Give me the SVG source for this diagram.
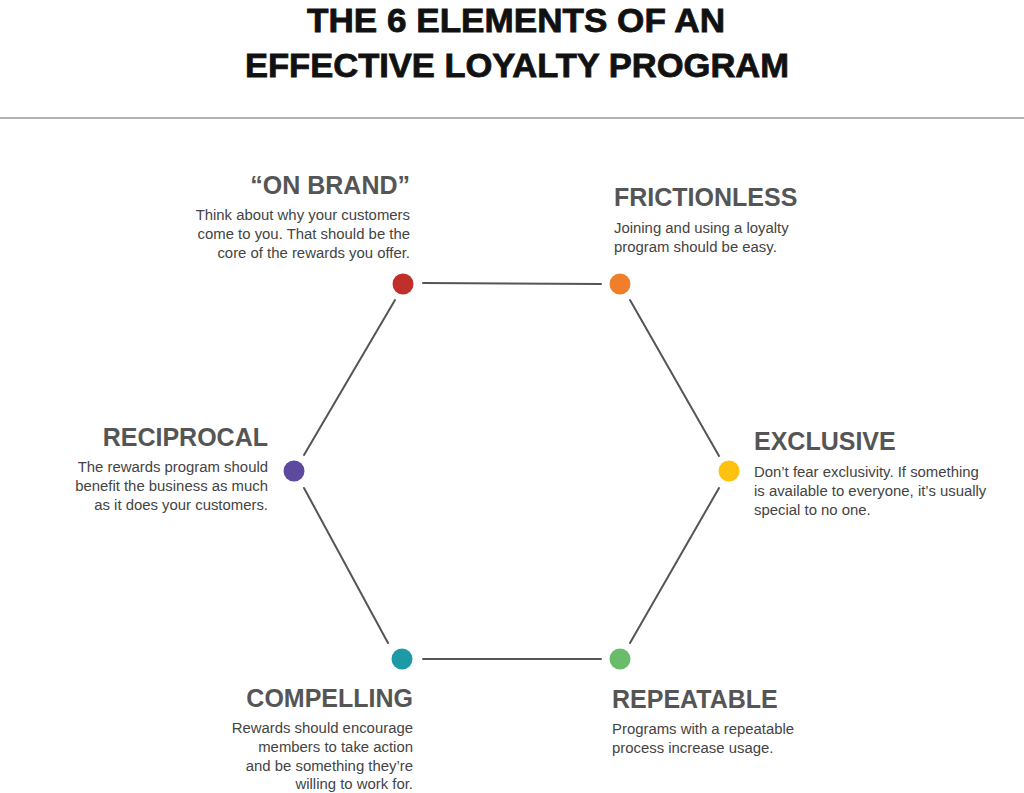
<svg xmlns="http://www.w3.org/2000/svg" width="1024" height="793" viewBox="0 0 1024 793">
<style>
.title{font-family:"Liberation Sans",Arial,sans-serif;font-weight:bold;font-size:34px;fill:#111;stroke:#111;stroke-width:0.8px;text-anchor:middle}
.h{font-family:"Liberation Sans",Arial,sans-serif;font-weight:bold;font-size:25px;fill:#555}
.b{font-family:"Liberation Sans",Arial,sans-serif;font-size:14.9px;fill:#444}
.r{text-anchor:end}
.conn line{stroke:#555;stroke-width:2;stroke-linecap:round}
</style>
<rect width="1024" height="793" fill="#fff"/>
<g id="title">
<text class="title" x="516" y="32" textLength="418" lengthAdjust="spacingAndGlyphs">THE 6 ELEMENTS OF AN</text>
<text class="title" x="517" y="77" textLength="544" lengthAdjust="spacingAndGlyphs">EFFECTIVE LOYALTY PROGRAM</text>
<line x1="0" y1="118" x2="1024" y2="118" stroke="#b3b3b3" stroke-width="2"/>
</g>
<g class="conn" id="connectors">
<line x1="423" y1="283" x2="601" y2="284"/>
<line x1="630" y1="300" x2="719" y2="456"/>
<line x1="719" y1="488" x2="630" y2="643"/>
<line x1="601" y1="659" x2="423" y2="659"/>
<line x1="388" y1="643" x2="304" y2="488"/>
<line x1="304" y1="455" x2="395" y2="300"/>
</g>
<g id="onbrand">
<circle cx="403" cy="284" r="10.5" fill="#c0302b"/>
<text class="h r" x="410" y="194">“ON BRAND”</text>
<text class="b r" x="410" y="220">Think about why your customers</text>
<text class="b r" x="410" y="239">come to you. That should be the</text>
<text class="b r" x="410" y="258">core of the rewards you offer.</text>
</g>
<g id="frictionless">
<circle cx="620" cy="284" r="10.5" fill="#f07f2c"/>
<text class="h" x="614" y="206">FRICTIONLESS</text>
<text class="b" x="614" y="233">Joining and using a loyalty</text>
<text class="b" x="614" y="252">program should be easy.</text>
</g>
<g id="exclusive">
<circle cx="729" cy="471" r="10.5" fill="#fcc20f"/>
<text class="h" x="754" y="450">EXCLUSIVE</text>
<text class="b" x="754" y="477">Don’t fear exclusivity. If something</text>
<text class="b" x="754" y="496">is available to everyone, it’s usually</text>
<text class="b" x="754" y="515">special to no one.</text>
</g>
<g id="repeatable">
<circle cx="620" cy="659" r="10.5" fill="#69bd6a"/>
<text class="h" x="612" y="708">REPEATABLE</text>
<text class="b" x="612" y="734">Programs with a repeatable</text>
<text class="b" x="612" y="753">process increase usage.</text>
</g>
<g id="compelling">
<circle cx="402" cy="659" r="10.5" fill="#1e9aa6"/>
<text class="h r" x="413" y="707">COMPELLING</text>
<text class="b r" x="413" y="733">Rewards should encourage</text>
<text class="b r" x="413" y="752">members to take action</text>
<text class="b r" x="413" y="771">and be something they’re</text>
<text class="b r" x="413" y="789">willing to work for.</text>
</g>
<g id="reciprocal">
<circle cx="294" cy="471" r="10.5" fill="#5d4a9e"/>
<text class="h r" x="268" y="446">RECIPROCAL</text>
<text class="b r" x="268" y="472">The rewards program should</text>
<text class="b r" x="268" y="491">benefit the business as much</text>
<text class="b r" x="268" y="510">as it does your customers.</text>
</g>
</svg>
